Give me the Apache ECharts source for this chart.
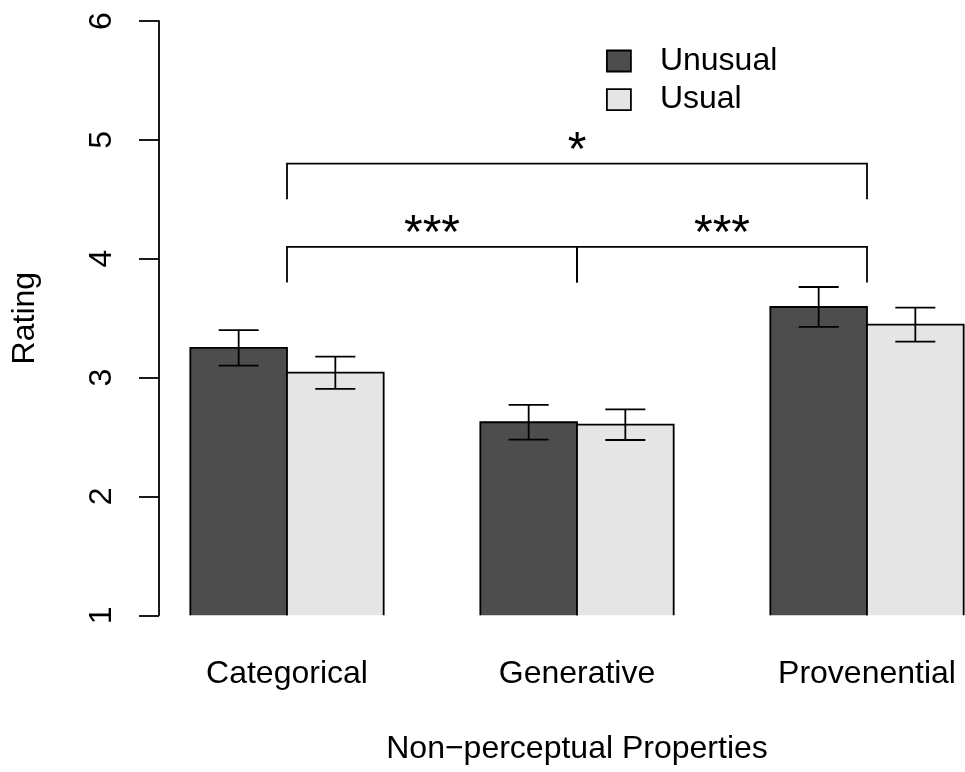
<!DOCTYPE html>
<html>
<head>
<meta charset="utf-8">
<script src="https://cdn.jsdelivr.net/npm/echarts@6/dist/echarts.min.js"></script>
<style>html,body{margin:0;padding:0;background:#fff}#c{width:965px;height:772px}</style>
</head>
<body>
<div id="c"></div>
<script>
// ---- data ----
const categories = ['Categorical', 'Generative', 'Provenential'];
const seriesNames = ['Unusual', 'Usual'];
const unusualMean = [3.25, 2.624, 3.594];
const usualMean = [3.041, 2.604, 3.445];
const unusualSE = [0.149, 0.146, 0.168];
const usualSE = [0.136, 0.129, 0.143];
const yTicks = [1, 2, 3, 4, 5, 6];
// significance brackets
const bracketFrom = [0, 0, 1];
const bracketTo = [2, 1, 2];
const bracketLevel = [4.8, 4.1, 4.1];
const bracketDrop = [4.5, 3.8, 3.8];
const bracketLabel = ['*', '***', '***'];
const bracketLabelY = [5.0, 4.3, 4.3];

// ---- style ----
const FONT = '"Liberation Sans", Arial, Helvetica, sans-serif';
const FS = 32;
const STAR_FS = 48;
const colors = ['#4d4d4d', '#e5e5e5'];
const LW = 1.8;

const chart = echarts.init(document.getElementById('c'), null, {renderer: 'canvas'});

function barRenderer(slot) {
  return function (params, api) {
    const i = api.value(0), v = api.value(1);
    const band = api.size([1, 0])[0];
    const c = api.coord([i, v]);
    const w = band / 3;
    const x0 = c[0] - w + slot * w, x1 = x0 + w;
    const cs = params.coordSys;
    const bottom = cs.y + cs.height;
    return {
      type: 'group',
      children: [
        {type: 'rect', shape: {x: x0, y: c[1], width: w, height: bottom - c[1]}, style: {fill: colors[slot]}},
        {type: 'polyline', shape: {points: [[x0, bottom], [x0, c[1]], [x1, c[1]], [x1, bottom]]},
         style: {stroke: '#000', lineWidth: LW, fill: null}}
      ]
    };
  };
}

function errRender(params, api) {
  const i = api.value(0), slot = api.value(1);
  const lo = api.value(2), hi = api.value(3);
  const band = api.size([1, 0])[0];
  const pLo = api.coord([i, lo]), pHi = api.coord([i, hi]);
  const cx = pLo[0] + (slot * 2 - 1) * band / 6;
  const h = band * 0.069;
  const st = {stroke: '#000', lineWidth: LW};
  return {
    type: 'group',
    children: [
      {type: 'line', shape: {x1: cx, y1: pLo[1], x2: cx, y2: pHi[1]}, style: st},
      {type: 'line', shape: {x1: cx - h, y1: pLo[1], x2: cx + h, y2: pLo[1]}, style: st},
      {type: 'line', shape: {x1: cx - h, y1: pHi[1], x2: cx + h, y2: pHi[1]}, style: st}
    ]
  };
}

function bracketRender(params, api) {
  const a = api.coord([api.value(0), api.value(2)]);
  const b = api.coord([api.value(1), api.value(2)]);
  const d = api.coord([api.value(0), api.value(3)]);
  const t = api.coord([api.value(0), api.value(4)]);
  const midX = (a[0] + b[0]) / 2;
  return {
    type: 'group',
    children: [
      {type: 'polyline', shape: {points: [[a[0], d[1]], [a[0], a[1]], [b[0], b[1]], [b[0], d[1]]]},
       style: {stroke: '#000', lineWidth: LW, fill: null}},
      {type: 'text', x: midX, y: t[1] + 11.7,
       style: {text: bracketLabel[params.dataIndex], fill: '#000', font: STAR_FS + 'px ' + FONT,
               align: 'center', verticalAlign: 'middle'}}
    ]
  };
}

const errData = [];
categories.forEach(function (c, i) {
  errData.push([i, 0, unusualMean[i] - unusualSE[i], unusualMean[i] + unusualSE[i]]);
  errData.push([i, 1, usualMean[i] - usualSE[i], usualMean[i] + usualSE[i]]);
});
const bracketData = bracketFrom.map(function (f, k) {
  return [f, bracketTo[k], bracketLevel[k], bracketDrop[k], bracketLabelY[k]];
});

const option = {
  animation: false,
  backgroundColor: '#fff',
  textStyle: {fontFamily: FONT},
  grid: {left: 142, top: 21, width: 870, height: 594.3, outerBoundsMode: 'none', containLabel: false},
  legend: {
    orient: 'vertical',
    left: 606, top: 45,
    padding: 0,
    itemWidth: 24, itemHeight: 21, itemGap: 6.65,
    icon: 'rect',
    textStyle: {fontSize: FS, color: '#000', fontFamily: FONT, padding: [0, 0, 0, 24]},
    data: seriesNames.map(function (n, s) {
      return {name: n, icon: 'rect', itemStyle: {color: colors[s], borderColor: '#000', borderWidth: LW}};
    })
  },
  xAxis: {
    type: 'category',
    data: categories,
    axisLine: {show: false},
    axisTick: {show: false},
    splitLine: {show: false},
    axisLabel: {fontSize: FS, color: '#000', margin: 42.5, fontFamily: FONT},
    name: 'Non\u2212perceptual Properties',
    nameLocation: 'middle',
    nameGap: 117.6,
    nameTextStyle: {fontSize: FS, color: '#000', fontFamily: FONT}
  },
  yAxis: {
    type: 'value',
    min: yTicks[0], max: yTicks[yTicks.length - 1], interval: 1,
    offset: -17,
    axisLine: {show: true, lineStyle: {color: '#000', width: LW}},
    axisTick: {show: true, length: 20, lineStyle: {color: '#000', width: LW}},
    splitLine: {show: false},
    axisLabel: {rotate: 90, fontSize: FS, color: '#000', margin: 41, fontFamily: FONT},
    name: 'Rating',
    nameLocation: 'middle',
    nameRotate: 90,
    nameGap: 117.4,
    nameTextStyle: {fontSize: FS, color: '#000', fontFamily: FONT}
  },
  series: [
    {
      name: seriesNames[0], type: 'custom', renderItem: barRenderer(0),
      itemStyle: {color: colors[0], borderColor: '#000', borderWidth: LW},
      encode: {x: 0, y: 1},
      data: categories.map(function (c, i) { return [i, unusualMean[i]]; }),
      z: 2
    },
    {
      name: seriesNames[1], type: 'custom', renderItem: barRenderer(1),
      itemStyle: {color: colors[1], borderColor: '#000', borderWidth: LW},
      encode: {x: 0, y: 1},
      data: categories.map(function (c, i) { return [i, usualMean[i]]; }),
      z: 2
    },
    {
      name: 'errors', type: 'custom', renderItem: errRender,
      encode: {x: 0, y: [2, 3]},
      data: errData, z: 3, silent: true
    },
    {
      name: 'brackets', type: 'custom', renderItem: bracketRender,
      encode: {x: [0, 1], y: [2, 3, 4]},
      data: bracketData, z: 3, silent: true
    }
  ]
};
chart.setOption(option);
</script>
</body>
</html>
